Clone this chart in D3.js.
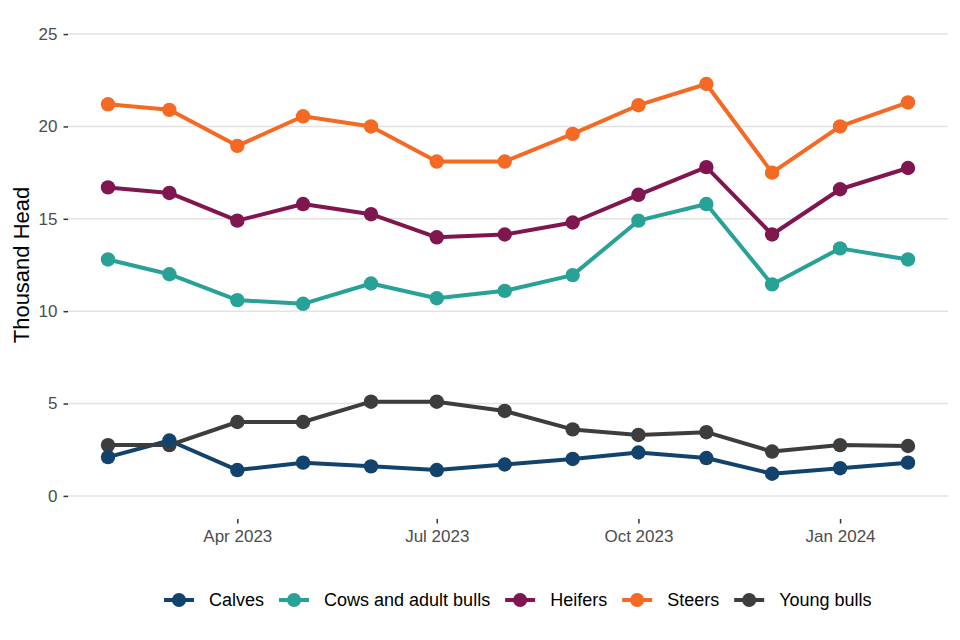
<!DOCTYPE html>
<html>
<head>
  <meta charset="utf-8"/>
  <title>Cattle registrations</title>
  <script src="https://d3js.org/d3.v7.min.js"></script>
  <style>
    body { margin: 0; background: #fff; }
    svg { font-family: "Liberation Sans", Arial, sans-serif; }
  </style>
</head>
<body>
<svg width="960" height="640"></svg>

<script type="text/javascript">

// months (first of month)
const months = ["2023-02-01", "2023-03-01", "2023-04-01", "2023-05-01", "2023-06-01",
  "2023-07-01", "2023-08-01", "2023-09-01", "2023-10-01", "2023-11-01",
  "2023-12-01", "2024-01-01", "2024-02-01"];

const seriesNames = ["Calves", "Cows and adult bulls", "Heifers", "Steers", "Young bulls"];

const calves     = [2.1, 3.0, 1.4, 1.8, 1.6, 1.4, 1.7, 2.0, 2.35, 2.05, 1.2, 1.5, 1.8];
const cows       = [12.8, 12.0, 10.6, 10.4, 11.5, 10.7, 11.1, 11.95, 14.9, 15.8, 11.45, 13.4, 12.8];
const heifers    = [16.7, 16.4, 14.9, 15.8, 15.25, 14.0, 14.15, 14.8, 16.3, 17.8, 14.15, 16.6, 17.75];
const steers     = [21.2, 20.9, 18.95, 20.55, 20.0, 18.1, 18.1, 19.6, 21.15, 22.3, 17.5, 20.0, 21.3];
const youngBulls = [2.75, 2.75, 4.0, 4.0, 5.1, 5.1, 4.6, 3.6, 3.3, 3.45, 2.4, 2.75, 2.7];

const yTicks = [0, 5, 10, 15, 20, 25];
const xTicks = ["2023-04-01", "2023-07-01", "2023-10-01", "2024-01-01"];

const colours = ["#12436D", "#28A197", "#801650", "#F46A25", "#3D3D3D"];

const values = [calves, cows, heifers, steers, youngBulls];

const parse = d3.timeParse("%Y-%m-%d");
const dates = months.map(parse);

const series = seriesNames.map((name, i) => ({
  name: name,
  colour: colours[i],
  points: dates.map((d, j) => ({ date: d, value: values[i][j] }))
}));

const svg = d3.select("svg");

const panel = { left: 68, right: 948, top: 11, bottom: 519 };

// 5% expansion either side like ggplot
const span = dates[dates.length - 1] - dates[0];
const x = d3.scaleTime()
    .domain([new Date(+dates[0] - span * 0.05), new Date(+dates[dates.length - 1] + span * 0.05)])
    .range([panel.left, panel.right]);

const y = d3.scaleLinear()
    .domain([-1.25, 26.25])
    .range([panel.bottom, panel.top]);

// gridlines
svg.append("g")
  .selectAll("line")
  .data(yTicks)
  .join("line")
    .attr("x1", panel.left)
    .attr("x2", panel.right)
    .attr("y1", d => y(d))
    .attr("y2", d => y(d))
    .style("stroke", "#e3e3e3")
    .style("stroke-width", 1.5);

// y axis
const yAxis = svg.append("g")
    .attr("transform", `translate(${panel.left},0)`)
    .call(d3.axisLeft(y).tickValues(yTicks).tickSize(4.5).tickPadding(6));
yAxis.select(".domain").remove();
yAxis.selectAll(".tick line").style("stroke", "#333").style("stroke-width", 1.5);
yAxis.selectAll(".tick text")
    .style("font-size", "17px")
    .style("fill", "#4d4d4d")
    .style("font-family", "Liberation Sans, Arial, sans-serif");

// x axis
const xAxis = svg.append("g")
    .attr("transform", `translate(0,${panel.bottom})`)
    .call(d3.axisBottom(x)
      .tickValues(xTicks.map(parse))
      .tickFormat(d3.timeFormat("%b %Y"))
      .tickSize(4.5)
      .tickPadding(6.5));
xAxis.select(".domain").remove();
xAxis.selectAll(".tick line").style("stroke", "#333").style("stroke-width", 1.5);
xAxis.selectAll(".tick text")
    .style("font-size", "17px")
    .style("fill", "#4d4d4d")
    .style("font-family", "Liberation Sans, Arial, sans-serif");

// axis title
svg.append("text")
    .attr("transform", `translate(29,${(y(0) + y(25)) / 2}) rotate(-90)`)
    .attr("text-anchor", "middle")
    .style("font-size", "22px")
    .style("fill", "#000")
    .text("Thousand Head");

const line = d3.line()
    .x(d => x(d.date))
    .y(d => y(d.value));

// lines
svg.append("g")
  .selectAll("path")
  .data(series)
  .join("path")
    .attr("d", d => line(d.points))
    .style("fill", "none")
    .style("stroke", d => d.colour)
    .style("stroke-width", 4)
    .style("stroke-linejoin", "round");

// points (last series first so calves sit on top)
svg.append("g")
  .selectAll("g")
  .data(series.slice().reverse())
  .join("g")
    .style("fill", d => d.colour)
  .selectAll("circle")
  .data(d => d.points)
  .join("circle")
    .attr("cx", d => x(d.date))
    .attr("cy", d => y(d.value))
    .attr("r", 7.2);

// legend
const legend = svg.append("g").attr("transform", "translate(164,600)");
let offset = 0;
series.forEach(s => {
  const g = legend.append("g").attr("transform", `translate(${offset},0)`);
  g.append("line")
      .attr("x1", 0).attr("x2", 30)
      .style("stroke", s.colour)
      .style("stroke-width", 4);
  g.append("circle")
      .attr("cx", 15)
      .attr("r", 7)
      .style("fill", s.colour);
  const t = g.append("text")
      .attr("x", 45)
      .attr("dy", "0.35em")
      .style("font-size", "18px")
      .style("fill", "#000")
      .text(s.name);
  offset += 45 + t.node().getComputedTextLength() + 15;
});

</script>
</body>
</html>
